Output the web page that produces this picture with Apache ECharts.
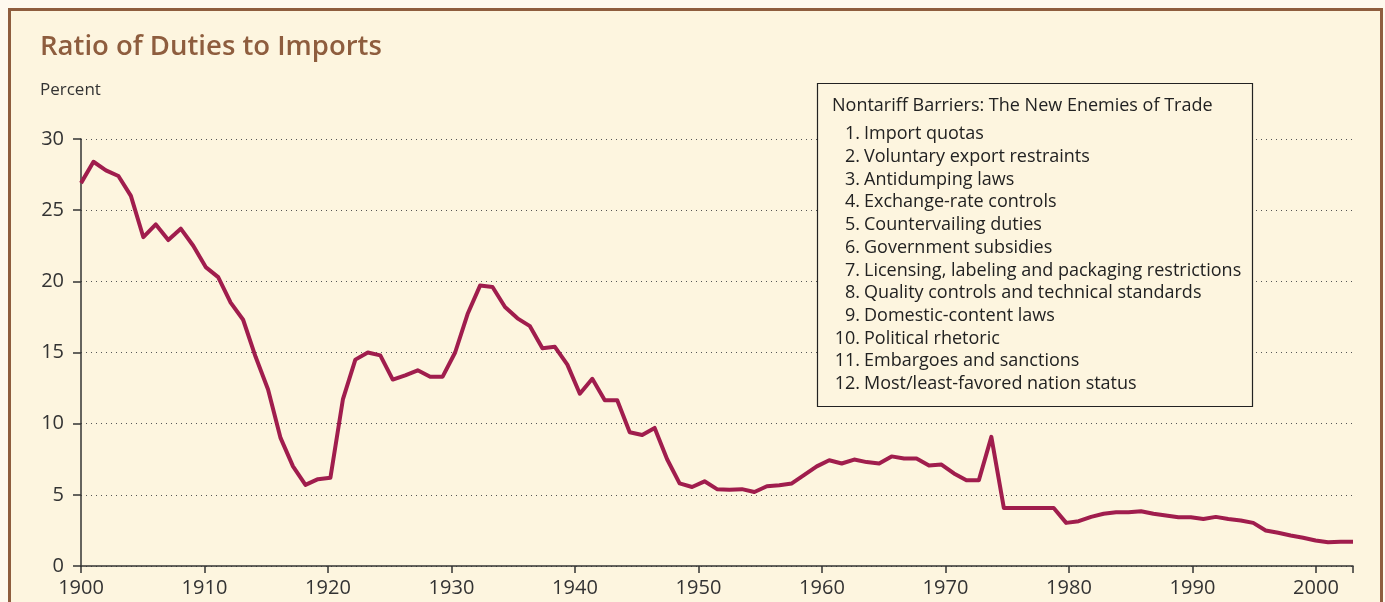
<!DOCTYPE html>
<html>
<head>
<meta charset="utf-8">
<script src="https://cdn.jsdelivr.net/npm/echarts@6/dist/echarts.min.js"></script>
<style>
html,body{margin:0;padding:0;background:#FEF9EE;}
#chart{width:1385px;height:602px;}
</style>
</head>
<body>
<div id="chart"></div>
<script>
// Data: ratio of duties to imports (percent), 1900-2002
const years = [];
for (let y = 1900; y <= 2002; y++) years.push(y);
const dutyRatio = [
  26.9, 28.4, 27.8, 27.4, 26.0, 23.1, 24.0, 22.9, 23.7, 22.5,   // 1900-1909
  21.0, 20.3, 18.5, 17.3, 14.7, 12.4, 9.0, 7.0, 5.7, 6.1,       // 1910-1919
  6.2, 11.7, 14.5, 15.0, 14.8, 13.1, 13.4, 13.75, 13.3, 13.3,   // 1920-1929
  15.0, 17.7, 19.7, 19.6, 18.2, 17.4, 16.85, 15.3, 15.4, 14.15, // 1930-1939
  12.1, 13.15, 11.65, 11.65, 9.4, 9.2, 9.7, 7.5, 5.8, 5.55,     // 1940-1949
  5.95, 5.4, 5.35, 5.4, 5.2, 5.6, 5.67, 5.8, 6.4, 7.0,          // 1950-1959
  7.43, 7.2, 7.48, 7.3, 7.2, 7.7, 7.55, 7.55, 7.06, 7.13,       // 1960-1969
  6.5, 6.03, 6.03, 9.07, 4.08, 4.08, 4.08, 4.08, 4.08, 3.03,    // 1970-1979
  3.15, 3.45, 3.67, 3.78, 3.78, 3.85, 3.67, 3.55, 3.43, 3.43,   // 1980-1989
  3.3, 3.45, 3.3, 3.2, 3.03, 2.5, 2.33, 2.14, 1.98, 1.79,       // 1990-1999
  1.67, 1.7, 1.7                                                // 2000-2002
];
const xTickValues = [1900, 1910, 1920, 1930, 1940, 1950, 1960, 1970, 1980, 1990, 2000, 2003];
const xLabelValues = [1900, 1910, 1920, 1930, 1940, 1950, 1960, 1970, 1980, 1990, 2000];
const yTicks = [0, 5, 10, 15, 20, 25, 30];

const titleText = 'Ratio of Duties to Imports';
const unitText = 'Percent';
const boxTitle = 'Nontariff Barriers: The New Enemies of Trade';
const boxNumbers = ['1.', '2.', '3.', '4.', '5.', '6.', '7.', '8.', '9.', '10.', '11.', '12.'];
const boxItems = [
  'Import quotas',
  'Voluntary export restraints',
  'Antidumping laws',
  'Exchange-rate controls',
  'Countervailing duties',
  'Government subsidies',
  'Licensing, labeling and packaging restrictions',
  'Quality controls and technical standards',
  'Domestic-content laws',
  'Political rhetoric',
  'Embargoes and sanctions',
  'Most/least-favored nation status'
];

const FONT = '"Open Sans", Lato, sans-serif';
const chart = echarts.init(document.getElementById('chart'), null, {renderer: 'canvas'});

const seriesData = years.map((y, i) => [y, dutyRatio[i]]);

const graphics = [
  {type: 'rect', z: -10, silent: true,
   shape: {x: 9.5, y: 9.5, width: 1372, height: 700},
   style: {fill: '#FDF5DF', stroke: '#8E5D3E', lineWidth: 3}},
  {type: 'text', z: 10, x: 40, y: 47,
   style: {text: titleText, fill: '#8E5D3E', font: '600 27.5px ' + FONT, verticalAlign: 'middle'}},
  {type: 'text', z: 10, x: 40, y: 90,
   style: {text: unitText, fill: '#333', font: '17px ' + FONT, verticalAlign: 'middle'}},
  {type: 'rect', z: 20, silent: true,
   shape: {x: 817.5, y: 83.5, width: 435, height: 323},
   style: {fill: '#FDF5DF', stroke: '#222', lineWidth: 1.2}},
  {type: 'text', z: 21, x: 832, y: 106,
   style: {text: boxTitle, fill: '#222', font: '18px ' + FONT, verticalAlign: 'middle'}}
];
boxItems.forEach((t, i) => {
  const yy = 134 + i * 22.73;
  graphics.push({type: 'text', z: 21, x: 860, y: yy,
    style: {text: boxNumbers[i], fill: '#222', font: '18px ' + FONT, align: 'right', verticalAlign: 'middle'}});
  graphics.push({type: 'text', z: 21, x: 864, y: yy,
    style: {text: t, fill: '#222', font: '18px ' + FONT, align: 'left', verticalAlign: 'middle'}});
});

chart.setOption({
  backgroundColor: 'transparent',
  animation: false,
  grid: {left: 81, right: 32, top: 139, bottom: 36, outerBoundsMode: 'none'},
  xAxis: [
    {
      type: 'value', min: 1900, max: 2003, interval: 10,
      axisLine: {show: true, lineStyle: {color: '#333', width: 1.5}},
      axisTick: {show: true, length: 7, customValues: xTickValues, lineStyle: {color: '#333', width: 1.5}},
      axisLabel: {customValues: xLabelValues, formatter: v => String(v), color: '#333',
                  fontSize: 20, fontFamily: FONT, margin: 12},
      splitLine: {show: false}
    },
    {
      // data positioning axis: points evenly span the full plotting width
      type: 'value', min: 1900, max: 2002, show: false,
      splitLine: {show: false}
    }
  ],
  yAxis: {
    type: 'value', min: 0, max: 30, interval: 5,
    axisLine: {show: true, lineStyle: {color: '#333', width: 1.5}},
    axisTick: {show: true, length: 8, lineStyle: {color: '#333', width: 1.5}},
    axisLabel: {color: '#333', fontSize: 20, fontFamily: FONT, margin: 17},
    splitLine: {show: true, lineStyle: {color: '#555', width: 1, type: [1, 4]}}
  },
  graphic: graphics,
  series: [{
    type: 'line', xAxisIndex: 1, data: seriesData, symbol: 'none',
    lineStyle: {color: '#A01D4D', width: 4, join: 'round'},
    z: 5
  }]
});
</script>
</body>
</html>
